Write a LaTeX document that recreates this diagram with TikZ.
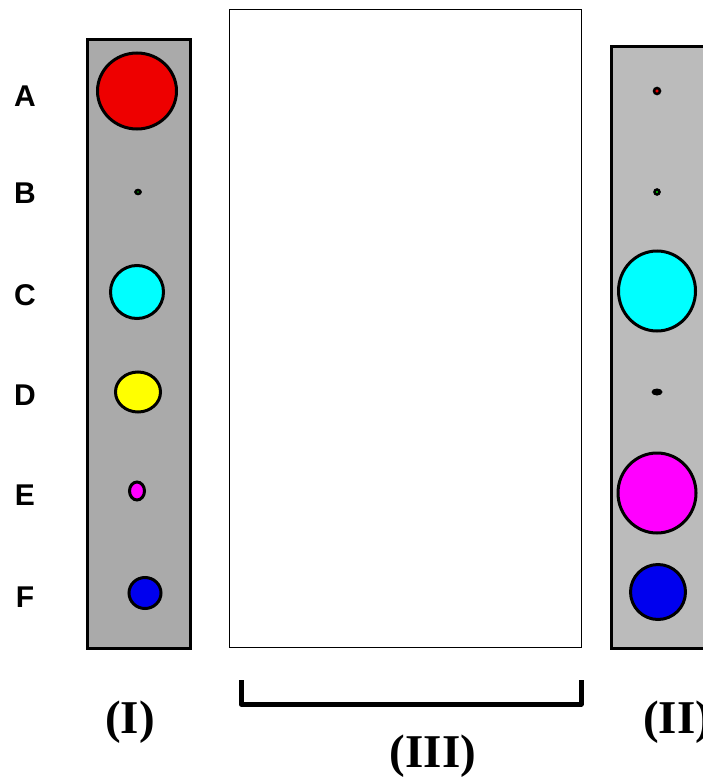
\documentclass[tikz,border=0pt]{standalone}
\usepackage{fontspec}
\setmainfont{Liberation Serif}
\setsansfont{Liberation Sans}
\usetikzlibrary{shapes.geometric}
\definecolor{spotred}{RGB}{238,0,0}
\definecolor{spotgreen}{RGB}{0,200,0}
\definecolor{spotcyan}{RGB}{0,255,255}
\definecolor{spotyellow}{RGB}{255,255,0}
\definecolor{spotmagenta}{RGB}{255,0,255}
\definecolor{spotblue}{RGB}{0,0,238}
\definecolor{stripdark}{RGB}{170,170,170}
\definecolor{striplight}{RGB}{187,187,187}

\begin{document}
\begin{tikzpicture}[x=1pt, y=-1pt,
strip/.style={rectangle, draw=black, line width=3pt, fill=#1,
minimum width=103pt, inner sep=0pt},
spot/.style={ellipse, draw=black, line width=3pt, fill=#1, inner sep=0pt},
dot/.style={ellipse, draw=black, line width=2.5pt, fill=#1, inner sep=0pt},
lane/.style={font=\sffamily\bfseries\fontsize{30}{36}\selectfont},
tag/.style={font=\rmfamily\bfseries\fontsize{47}{52}\selectfont},
bracket/.style={line width=5pt, line join=round}
]
\useasboundingbox (0,0) rectangle (702,781);

% Strips and plate
\node[strip=stripdark, minimum height=609pt] (stripI) at (139,344) {};
\node[rectangle, draw=black, line width=1pt, fill=white, inner sep=0pt,
minimum width=352pt, minimum height=637pt] (plate) at (405,328.5) {};
\node[strip=striplight, minimum height=602pt] (stripII) at (662.5,347.5) {};

% Lane letters
\node[lane] (laneA) at (25,96) {A};
\node[lane] (laneB) at (25,193) {B};
\node[lane] (laneC) at (25,295) {C};
\node[lane] (laneD) at (25,395) {D};
\node[lane] (laneE) at (25,495) {E};
\node[lane] (laneF) at (25,597) {F};

% Spots on strip I
\node[spot=spotred, minimum width=79pt, minimum height=76pt] (spotIA) at (137,91) {};
\node[dot=spotgreen, minimum width=5pt, minimum height=4pt] (spotIB) at (138,192) {};
\node[spot=spotcyan, minimum width=53pt, minimum height=53pt] (spotIC) at (137,292) {};
\node[spot=spotyellow, minimum width=45pt, minimum height=40pt] (spotID) at (138,392) {};
\node[spot=spotmagenta, minimum width=15pt, minimum height=18pt] (spotIE) at (137,491) {};
\node[spot=spotblue, minimum width=32pt, minimum height=31pt] (spotIF) at (145,593) {};

% Spots on strip II
\node[dot=spotred, minimum width=6pt, minimum height=6pt] (spotIIA) at (657,91) {};
\node[dot=spotgreen, minimum width=5pt, minimum height=5pt] (spotIIB) at (657,192) {};
\node[spot=spotcyan, minimum width=77pt, minimum height=80pt] (spotIIC) at (657,291) {};
\node[ellipse, fill=black, inner sep=0pt, minimum width=11pt, minimum height=7pt] (spotIID) at (657,392) {};
\node[spot=spotmagenta, minimum width=78pt, minimum height=80pt] (spotIIE) at (657,493) {};
\node[spot=spotblue, minimum width=55pt, minimum height=55pt] (spotIIF) at (658,592) {};

% Bracket under the plate
\coordinate (brL) at (241,680);
\coordinate (brR) at (581,680);
\draw[bracket] (brL) -- ++(0,24) -| (brR);

% Labels
\node[tag] (tagI) at (130,722) {(I)};
\node[tag] (tagIII) at (433,756) {(III)};
\node[tag] (tagII) at (677,722) {(II)};

\end{tikzpicture}
\end{document}
